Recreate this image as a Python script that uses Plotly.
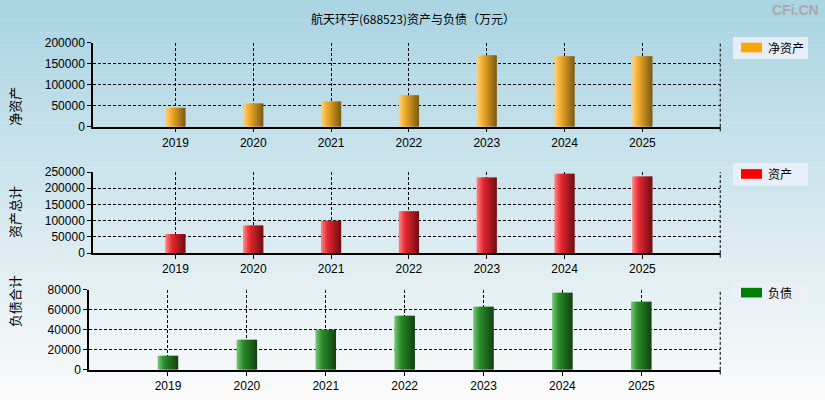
import plotly.graph_objects as go

years = [2019, 2020, 2021, 2022, 2023, 2024, 2025]
net_assets = [45000, 55000, 60000, 75000, 170000, 168000, 168000]
total_assets = [59000, 85000, 100000, 129000, 233000, 245000, 236000]
liabilities = [14000, 30000, 40000, 54000, 63000, 77000, 68000]

panels = [
    dict(vals=net_assets, name="净资产", ytitle="净资产", dom=[0.69, 0.9075], xd=[0.1127, 0.873],
         xr=[2017.94, 2026.0], yr=[0, 200000], dt=50000,
         light=(255, 205, 110), mid=(240, 170, 40), dark=(130, 95, 20), legc="#FFA500", legy=42),
    dict(vals=total_assets, name="资产", ytitle="资产总计", dom=[0.3625, 0.5725], xd=[0.1127, 0.873],
         xr=[2017.94, 2026.0], yr=[0, 250000], dt=50000,
         light=(255, 120, 120), mid=(230, 40, 50), dark=(120, 15, 20), legc="#FF0000", legy=173),
    dict(vals=liabilities, name="负债", ytitle="负债合计", dom=[0.06, 0.2675], xd=[0.108, 0.873],
         xr=[2018.0, 2026.0], yr=[0, 80000], dt=20000,
         light=(110, 190, 110), mid=(40, 140, 40), dark=(20, 70, 20), legc="#008000", legy=296),
]

fig = go.Figure()
shapes = []
annotations = []

N = 60
top = (171, 213, 227); bot = (250, 250, 250)
for i in range(N):
    t = i / (N - 1)
    c = tuple(int(top[k] + (bot[k] - top[k]) * t) for k in range(3))
    shapes.append(dict(type="rect", xref="paper", yref="paper", x0=0, x1=1,
                       y0=1 - (i + 1) / N - 0.02 * (i == N - 1), y1=1 - i / N + 0.001 + 0.02 * (i == 0),
                       line_width=0, fillcolor="rgb(%d,%d,%d)" % c, layer="below"))

S = 10
bw = 0.26
def lerp(a, b, t):
    return tuple(int(a[k] + (b[k] - a[k]) * t) for k in range(3))

for pi, p in enumerate(panels):
    xa = "x" if pi == 0 else "x%d" % (pi + 1)
    ya = "y" if pi == 0 else "y%d" % (pi + 1)
    for s in range(S):
        t = s / (S - 1)
        c = lerp(p["light"], p["mid"], t / 0.3) if t < 0.3 else lerp(p["mid"], p["dark"], (t - 0.3) / 0.7)
        w = bw / S * (1.6 if s < S - 1 else 1.0)
        fig.add_trace(go.Bar(x=years, y=p["vals"], width=w, offset=-bw / 2 + s * bw / S,
                             marker=dict(color="rgb(%d,%d,%d)" % c, line_width=0),
                             xaxis=xa, yaxis=ya, showlegend=False, hoverinfo="skip"))
    lk = "" if pi == 0 else str(pi + 1)
    common = dict(showgrid=True, griddash="3px,2px", gridcolor="black", gridwidth=1,
                  showline=True, linecolor="black", linewidth=1.5, ticks="outside",
                  ticklen=4, tickcolor="black", zeroline=False,
                  tickfont=dict(family="Liberation Sans", size=12, color="black"))
    fig.layout["xaxis" + lk] = dict(domain=p["xd"], range=p["xr"], anchor=ya, tickvals=years, **common)
    fig.layout["yaxis" + lk] = dict(domain=p["dom"], range=p["yr"], anchor=xa, dtick=p["dt"],
                                    tickformat="d", **common)
    shapes.append(dict(type="line", xref="paper", yref="paper", x0=p["xd"][1], x1=p["xd"][1],
                       y0=p["dom"][0], y1=p["dom"][1], line=dict(color="black", width=1, dash="3px,2px")))
    shapes.append(dict(type="line", xref="paper", yref="paper", x0=p["xd"][1], x1=p["xd"][1],
                       y0=p["dom"][0] - 0.012, y1=p["dom"][0], line=dict(color="black", width=1)))
    annotations.append(dict(text=p["ytitle"], xref="paper", yref="paper", x=3 / 825, xanchor="left",
                            y=sum(p["dom"]) / 2, textangle=-90, showarrow=False,
                            font=dict(family="Noto Sans CJK SC", size=13, color="black")))
    ly = p["legy"]
    shapes.append(dict(type="rect", xref="paper", yref="paper", x0=733 / 825, x1=808 / 825,
                       y0=1 - (ly + 12) / 400, y1=1 - (ly - 11) / 400, line_width=0,
                       fillcolor="rgba(235,240,248,0.9)"))
    shapes.append(dict(type="rect", xref="paper", yref="paper", x0=741 / 825, x1=762 / 825,
                       y0=1 - (ly + 5) / 400, y1=1 - (ly - 5) / 400, line_width=0,
                       fillcolor=p["legc"]))
    annotations.append(dict(text=p["name"], xref="paper", yref="paper", x=766 / 825,
                            y=1 - ly / 400, xanchor="left", yanchor="middle", showarrow=False,
                            font=dict(family="Noto Sans CJK SC", size=12, color="black")))

annotations.append(dict(text="航天环宇(688523)资产与负债（万元）", xref="paper", yref="paper",
                        x=0.5, y=1 - 12 / 400, yanchor="middle", showarrow=False,
                        font=dict(family="Noto Sans CJK SC", size=12, color="black")))
annotations.append(dict(text="<b>CFi.CN</b>", xref="paper", yref="paper", x=1 - 4 / 825,
                        y=1 - 3 / 400, yanchor="middle", xanchor="right", showarrow=False,
                        font=dict(family="Liberation Sans", size=14, color="#aaaaaa")))

fig.update_layout(width=825, height=400, margin=dict(l=0, r=0, t=0, b=0),
                  paper_bgcolor="rgba(0,0,0,0)", plot_bgcolor="rgba(0,0,0,0)",
                  barmode="overlay", shapes=shapes, annotations=annotations, showlegend=False)
fig.write_html("out.html", config={"displayModeBar": False},
               post_script="document.body.style.margin='0';document.body.style.overflow='hidden';")
